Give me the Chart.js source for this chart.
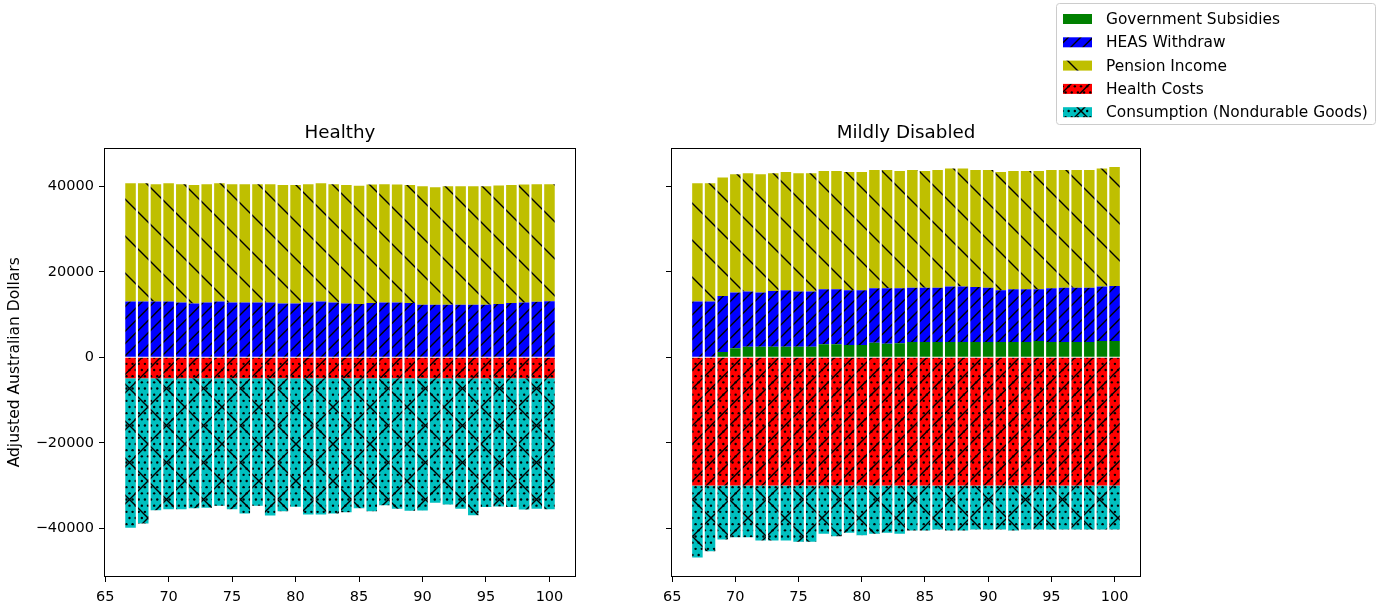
<!DOCTYPE html>
<html>
<head>
<meta charset="utf-8">
<script src="https://cdn.jsdelivr.net/npm/chart.js@4.4.1/dist/chart.umd.min.js"></script>
<style>
  html, body { margin: 0; padding: 0; background: #fff; }
  #wrap { position: relative; width: 1386px; height: 609px; overflow: hidden; }
  #healthyChart { position: absolute; left: 0; top: 0; }
  #disabledChart { position: absolute; left: 600px; top: 0; }
</style>
</head>
<body>
<div id="wrap">
  <canvas id="healthyChart" width="590" height="609"></canvas>
  <canvas id="disabledChart" width="786" height="609"></canvas>
</div>
<script>
// ages on the x axis
const ages = [67, 68, 69, 70, 71, 72, 73, 74, 75, 76, 77, 78, 79, 80, 81, 82, 83,
              84, 85, 86, 87, 88, 89, 90, 91, 92, 93, 94, 95, 96, 97, 98, 99, 100];
const xTicks = [65, 70, 75, 80, 85, 90, 95, 100];
const yTicks = [-40000, -20000, 0, 20000, 40000];

const seriesNames = ["Government Subsidies", "HEAS Withdraw", "Pension Income", "Health Costs", "Consumption (Nondurable Goods)"];

// Healthy
const healthySubsidies = [0, 0, 0, 0, 0, 0, 0, 0, 0, 0, 0, 0, 0, 0, 0, 0, 0,
                          0, 0, 0, 0, 0, 0, 0, 0, 0, 0, 0, 0, 0, 0, 0, 0, 0];
const healthyHeas = [13030, 13030, 13030, 13030, 12800, 12570, 12800, 13030, 12800, 12800, 12800, 12800, 12570, 12570, 12800, 13030, 12800,
                     12600, 12500, 12700, 12800, 12800, 12700, 12300, 12300, 12300, 12300, 12300, 12300, 12500, 12700, 12800, 13000, 13100];
const healthyPension = [27690, 27690, 27450, 27690, 27680, 27750, 27680, 27690, 27680, 27680, 27680, 27680, 27750, 27750, 27680, 27690, 27680,
                        27700, 27600, 27700, 27700, 27600, 27600, 27700, 27500, 27700, 27700, 27700, 27700, 27700, 27600, 27600, 27500, 27400];
const healthyHealth = [-4900, -4900, -4900, -4900, -4900, -4900, -4900, -4900, -4900, -4900, -4900, -4900, -4900, -4900, -4900, -4900, -4900,
                       -4900, -4900, -4900, -4900, -4900, -4900, -4900, -4900, -4900, -4900, -4900, -4900, -4900, -4900, -4900, -4900, -4900];
const healthyConsumption = [-34950, -33940, -30830, -30600, -30600, -30360, -30270, -29800, -30600, -31600, -29800, -32070, -31070, -30040, -31840, -31840, -31600,
                            -31300, -30400, -31100, -29700, -30500, -31000, -30900, -29100, -29500, -30500, -32000, -30100, -30000, -30100, -30700, -30500, -30600];

// Mildly disabled
const disabledSubsidies = [0, 0, 1240, 2110, 2500, 2500, 2500, 2500, 2500, 2500, 3040, 3040, 2880, 2880, 3430, 3200, 3300,
                           3590, 3590, 3590, 3590, 3590, 3590, 3590, 3590, 3590, 3590, 3820, 3590, 3590, 3590, 3590, 3820, 3820];
const disabledHeas = [13030, 13030, 13110, 13030, 12870, 12640, 13010, 13180, 12870, 12870, 12870, 12870, 12800, 12800, 12720, 12950, 12850,
                      12710, 12710, 12710, 12950, 12950, 12860, 12710, 12090, 12320, 12320, 12090, 12560, 12710, 12710, 12710, 12720, 12870];
const disabledPension = [27690, 27690, 27700, 27680, 27690, 27680, 27550, 27680, 27690, 27690, 27680, 27680, 27680, 27680, 27680, 27680, 27440,
                         27530, 27290, 27530, 27610, 27610, 27380, 27530, 27680, 27680, 27680, 27680, 27680, 27530, 27530, 27530, 27610, 27800];
const disabledHealth = [-29950, -29950, -29950, -29950, -29950, -29950, -29950, -29950, -29950, -29950, -29950, -29950, -29950, -29950, -29950, -29950, -29950,
                        -29950, -29950, -29950, -29950, -29950, -29950, -29950, -29950, -29950, -29950, -29950, -29950, -29950, -29950, -29950, -29950, -29950];
const disabledConsumption = [-16850, -15400, -12640, -12100, -12100, -12870, -12870, -12870, -13180, -13180, -11300, -11870, -11070, -11630, -11300, -11070, -11300,
                             -10530, -10530, -10300, -10530, -10530, -10300, -10300, -10300, -10530, -10300, -10300, -10300, -10300, -10300, -10300, -10300, -10300];

// hatch patterns, drawn on a small tile
function makeHatch(bg, fwd, back, dots) {
    const s = 37;
    const c = document.createElement('canvas');
    c.width = s; c.height = s;
    const g = c.getContext('2d');
    g.fillStyle = bg;
    g.fillRect(0, 0, s, s);
    g.strokeStyle = '#000';
    g.lineWidth = 1.4;
    g.beginPath();
    for (let k = 0; k <= 2 * fwd && fwd > 0; k++) {
        const cc = k * s / fwd;
        g.moveTo(-2, cc + 2);
        g.lineTo(s + 2, cc - s - 2);
    }
    for (let k = -back; k <= back && back > 0; k++) {
        const cc = k * s / back;
        g.moveTo(-2, cc - 2);
        g.lineTo(s + 2, cc + s + 2);
    }
    g.stroke();
    if (dots) {
        g.fillStyle = '#000';
        const step = s / 6;
        for (let i = 0; i <= 6; i++) {
            const odd = i % 2 === 1;
            for (let j = 0; j <= 6; j++) {
                const x = odd ? (j + 0.5) * step : j * step;
                g.beginPath();
                g.arc(x, i * step, 1.2, 0, Math.PI * 2);
                g.fill();
            }
        }
    }
    return g.createPattern(c, 'repeat');
}

const fills = [
    '#008000',
    makeHatch('#0000ff', 3, 0, false),
    makeHatch('#bfbf00', 0, 1, false),
    makeHatch('#ff0000', 2, 0, true),
    makeHatch('#00bfbf', 1, 1, true)
];

// shared y limits with matplotlib style 5% margins
let posMax = -Infinity, negMin = Infinity;
ages.forEach((a, i) => {
    posMax = Math.max(posMax, healthySubsidies[i] + healthyHeas[i] + healthyPension[i],
        disabledSubsidies[i] + disabledHeas[i] + disabledPension[i]);
    negMin = Math.min(negMin, healthyHealth[i] + healthyConsumption[i], disabledHealth[i] + disabledConsumption[i]);
});
const yRange = posMax - negMin;
const yMin = negMin - 0.05 * yRange;
const yMax = posMax + 0.05 * yRange;
const xMin = 66.6 - 0.05 * 33.8;
const xMax = 100.4 + 0.05 * 33.8;

function buildDatasets(series) {
    return series.map((values, idx) => ({
        label: seriesNames[idx],
        data: ages.map((a, i) => ({ x: a, y: values[i] })),
        backgroundColor: fills[idx],
        borderWidth: 0,
        barPercentage: 0.83,
        categoryPercentage: 1
    }));
}

const framePlugin = {
    id: 'frame',
    afterDraw(chart) {
        const { ctx, chartArea: a } = chart;
        ctx.save();
        ctx.strokeStyle = '#000';
        ctx.lineWidth = 1;
        ctx.strokeRect(Math.round(a.left) + 0.5, Math.round(a.top) + 0.5,
            Math.round(a.right) - Math.round(a.left) - 1, Math.round(a.bottom) - Math.round(a.top) - 1);
        ctx.restore();
    }
};

// legend box in the figure's top right corner
const legendPlugin = {
    id: 'figLegend',
    afterDraw(chart) {
        const ctx = chart.ctx;
        const bx = 456, by = 3, bw = 319, bh = 121;
        ctx.save();
        ctx.beginPath();
        ctx.roundRect(bx + 0.5, by + 0.5, bw, bh, 3);
        ctx.fillStyle = 'rgba(255,255,255,0.8)';
        ctx.fill();
        ctx.strokeStyle = '#cccccc';
        ctx.lineWidth = 1;
        ctx.stroke();
        ctx.font = '15.4px "DejaVu Sans"';
        ctx.textBaseline = 'middle';
        seriesNames.forEach((name, i) => {
            const cy = 19 + i * 23.3;
            ctx.fillStyle = fills[i];
            ctx.fillRect(463, cy - 5, 29, 10);
            ctx.fillStyle = '#000';
            ctx.fillText(name, 506, cy + 1);
        });
        ctx.restore();
    }
};

function makeOptions(title, yLabels, yTitle, yWidth, padding) {
    return {
        responsive: false,
        animation: false,
        layout: { padding: padding },
        plugins: {
            legend: { display: false },
            tooltip: { enabled: false },
            title: {
                display: true,
                text: title,
                fullSize: false,
                color: '#000',
                font: { size: 18.3, weight: 'normal' },
                padding: { top: 1, bottom: 3 }
            }
        },
        scales: {
            x: {
                type: 'linear',
                stacked: true,
                offset: false,
                min: xMin,
                max: xMax,
                grid: { display: true, offset: false, drawOnChartArea: false, drawTicks: true, tickLength: 5, tickColor: '#000' },
                border: { display: false },
                ticks: { color: '#000', font: { size: 14.5 }, padding: 7, maxRotation: 0, autoSkip: false, callback: v => String(v) },
                afterBuildTicks: s => { s.ticks = xTicks.map(v => ({ value: v })); },
                afterFit: s => { s.height = 32; }
            },
            y: {
                stacked: true,
                min: yMin,
                max: yMax,
                grid: { display: true, offset: false, drawOnChartArea: false, drawTicks: true, tickLength: 5, tickColor: '#000' },
                border: { display: false },
                ticks: {
                    color: '#000', font: { size: 14.5 }, padding: 5, autoSkip: false,
                    callback: v => yLabels ? (v < 0 ? '\u2212' + Math.abs(v) : String(v)) : ''
                },
                title: {
                    display: !!yTitle,
                    text: yTitle || '',
                    color: '#000',
                    font: { size: 15.5 },
                    padding: { top: 6, bottom: 0 }
                },
                afterBuildTicks: s => { s.ticks = yTicks.map(v => ({ value: v })); },
                afterFit: s => { s.width = yWidth; }
            }
        }
    };
}

Chart.defaults.font.family = '"DejaVu Sans", sans-serif';
Chart.defaults.color = '#000';

new Chart(document.getElementById('healthyChart'), {
    type: 'bar',
    data: { datasets: buildDatasets([healthySubsidies, healthyHeas, healthyPension, healthyHealth, healthyConsumption]) },
    options: makeOptions('Healthy', true, 'Adjusted Australian Dollars', 104, { top: 121.6, left: 0, right: 14, bottom: 0 }),
    plugins: [framePlugin]
});

new Chart(document.getElementById('disabledChart'), {
    type: 'bar',
    data: { datasets: buildDatasets([disabledSubsidies, disabledHeas, disabledPension, disabledHealth, disabledConsumption]) },
    options: makeOptions('Mildly Disabled', false, null, 12, { top: 121.6, left: 59, right: 245, bottom: 0 }),
    plugins: [framePlugin, legendPlugin]
});
</script>
</body>
</html>
